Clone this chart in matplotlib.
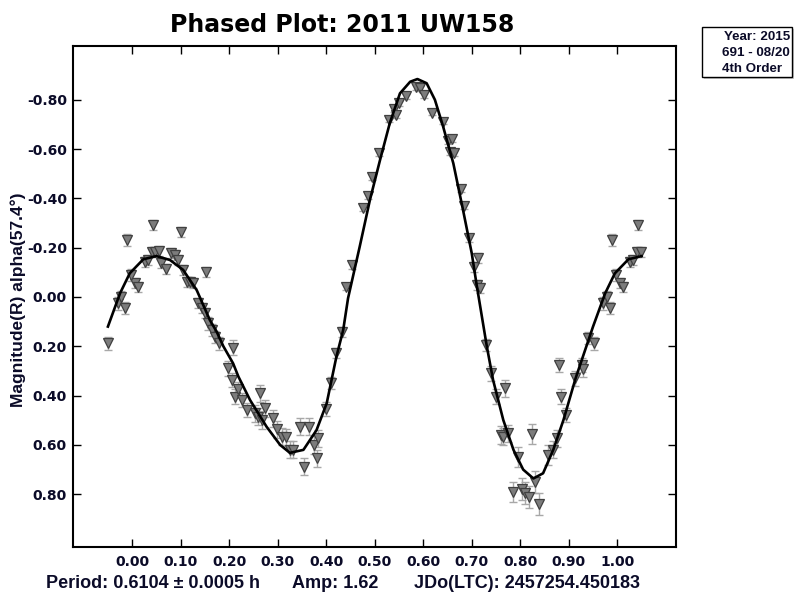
import numpy as np
import matplotlib.pyplot as plt
from matplotlib.patches import Rectangle
from matplotlib.lines import Line2D

# 위상 (0~1), 등급, 오차
phase = [0.006, 0.012, 0.026, 0.033, 0.040, 0.043, 0.048, 0.055, 0.059, 0.069,
         0.081, 0.088, 0.095, 0.100, 0.105, 0.112, 0.119, 0.126, 0.136, 0.143,
         0.150, 0.153, 0.157, 0.164, 0.170, 0.179, 0.198, 0.205, 0.208, 0.212,
         0.219, 0.226, 0.236, 0.253, 0.260, 0.263, 0.267, 0.274, 0.291, 0.299,
         0.308, 0.318, 0.325, 0.332, 0.345, 0.355, 0.365, 0.375, 0.380, 0.384,
         0.400, 0.409, 0.420, 0.432, 0.441, 0.454, 0.475, 0.487, 0.494, 0.509,
         0.529, 0.540, 0.544, 0.550, 0.564, 0.585, 0.593, 0.602, 0.619, 0.641,
         0.652, 0.655, 0.659, 0.664, 0.677, 0.685, 0.695, 0.705, 0.713, 0.710,
         0.718, 0.729, 0.739, 0.750, 0.760, 0.765, 0.769, 0.775, 0.784, 0.795,
         0.803, 0.810, 0.817, 0.824, 0.831, 0.839, 0.858, 0.868, 0.875, 0.880,
         0.884, 0.894, 0.913, 0.927, 0.930, 0.940, 0.951, 0.971, 0.978, 0.985,
         0.990, 0.997]
mag = [-0.056, -0.042, -0.143, -0.150, -0.184, -0.292, -0.184, -0.187, -0.137, -0.112,
       -0.180, -0.170, -0.150, -0.265, -0.110, -0.062, -0.060, -0.058, 0.026, 0.046,
       0.066, -0.103, 0.107, 0.134, 0.161, 0.188, 0.289, 0.337, 0.205, 0.404,
       0.374, 0.418, 0.458, 0.472, 0.486, 0.391, 0.499, 0.452, 0.492, 0.537,
       0.567, 0.569, 0.620, 0.620, 0.526, 0.688, 0.526, 0.600, 0.654, 0.573,
       0.454, 0.350, 0.226, 0.141, -0.042, -0.130, -0.360, -0.410, -0.488, -0.583,
       -0.718, -0.761, -0.738, -0.786, -0.815, -0.851, -0.847, -0.819, -0.748, -0.711,
       -0.633, -0.589, -0.641, -0.585, -0.437, -0.371, -0.238, -0.123, -0.157, -0.049,
       -0.035, 0.195, 0.310, 0.404, 0.560, 0.567, 0.370, 0.553, 0.790, 0.648,
       0.780, 0.796, 0.810, 0.556, 0.749, 0.840, 0.641, 0.620, 0.573, 0.276,
       0.404, 0.479, 0.330, 0.276, 0.293, 0.166, 0.188, 0.026, 0.000, 0.044,
       -0.231, -0.089]
mag_err = [0.02, 0.02, 0.02, 0.02, 0.02, 0.02, 0.02, 0.02, 0.02, 0.02,
           0.02, 0.02, 0.02, 0.02, 0.02, 0.02, 0.02, 0.02, 0.02, 0.02,
           0.02, 0.02, 0.025, 0.025, 0.025, 0.025, 0.03, 0.03, 0.03, 0.03,
           0.03, 0.03, 0.03, 0.035, 0.035, 0.035, 0.035, 0.035, 0.035, 0.035,
           0.035, 0.035, 0.035, 0.035, 0.035, 0.035, 0.035, 0.035, 0.035, 0.035,
           0.03, 0.025, 0.02, 0.02, 0.015, 0.015, 0.012, 0.012, 0.012, 0.012,
           0.01, 0.01, 0.01, 0.01, 0.01, 0.01, 0.01, 0.01, 0.01, 0.01,
           0.012, 0.012, 0.012, 0.012, 0.012, 0.015, 0.015, 0.02, 0.02, 0.02,
           0.02, 0.025, 0.03, 0.03, 0.035, 0.035, 0.035, 0.035, 0.04, 0.04,
           0.045, 0.045, 0.045, 0.04, 0.045, 0.045, 0.04, 0.035, 0.035, 0.03,
           0.03, 0.03, 0.03, 0.03, 0.03, 0.025, 0.025, 0.025, 0.025, 0.025,
           0.025, 0.025]

# 4차 푸리에 곡선
fit_x = [-0.050, -0.025, -0.005, 0.023, 0.050, 0.078, 0.105, 0.133, 0.160, 0.174,
         0.188, 0.208, 0.219, 0.243, 0.277, 0.305, 0.325, 0.353, 0.380, 0.401,
         0.421, 0.435, 0.445, 0.469, 0.490, 0.511, 0.531, 0.552, 0.573, 0.588,
         0.607, 0.624, 0.641, 0.662, 0.682, 0.700, 0.710, 0.731, 0.744, 0.765,
         0.786, 0.806, 0.827, 0.847, 0.868, 0.889, 0.914, 0.950, 0.975, 0.995,
         1.023, 1.050]
fit_y = [0.120, -0.015, -0.096, -0.153, -0.166, -0.150, -0.110, -0.028, 0.093, 0.140,
         0.200, 0.269, 0.323, 0.418, 0.526, 0.600, 0.632, 0.620, 0.540, 0.431,
         0.242, 0.134, 0.005, -0.204, -0.393, -0.556, -0.705, -0.826, -0.873, -0.884,
         -0.867, -0.800, -0.691, -0.542, -0.353, -0.177, -0.050, 0.200, 0.337, 0.499,
         0.620, 0.700, 0.736, 0.715, 0.620, 0.499, 0.330, 0.120, -0.015, -0.096,
         -0.153, -0.166]

x_ticks = [0.0, 0.1, 0.2, 0.3, 0.4, 0.5, 0.6, 0.7, 0.8, 0.9, 1.0]
y_ticks = [-0.8, -0.6, -0.4, -0.2, 0.0, 0.2, 0.4, 0.6, 0.8]

# 위상 -0.05 ~ 1.05 로 반복 표시
p = np.array(phase)
m = np.array(mag)
e = np.array(mag_err)
lo = p > 0.95
hi = p < 0.05
px = np.concatenate([p, p[lo] - 1, p[hi] + 1])
py = np.concatenate([m, m[lo], m[hi]])
pe = np.concatenate([e, e[lo], e[hi]])

W, H = 802, 602
txt_color = '#0b0b28'
fig = plt.figure(figsize=(W / 100, H / 100), dpi=100)
ax = fig.add_axes([72.5 / W, 1 - 547 / H, (676 - 72.5) / W, (547 - 46) / H])

ax.errorbar(px, py, yerr=pe, fmt='none', ecolor='#a8a8a8', elinewidth=1,
            capsize=3, capthick=1, zorder=2)
ax.plot(px, py, 'v', ms=7.8, mfc='#7c7c7c', mec='#404040', mew=0.9, zorder=3)
ax.plot(fit_x, fit_y, color='black', lw=1.9, zorder=4)

ax.set_xlim(-0.123, 1.121)
ax.set_ylim(1.014, -1.018)
ax.set_xticks(x_ticks)
ax.set_yticks(y_ticks)
ax.set_xticklabels([f"{v:.2f}" for v in x_ticks])
ax.set_yticklabels([f"{v:.2f}" for v in y_ticks])
ax.tick_params(direction='in', length=6, width=1, top=True, right=True,
               labelsize=10, labelcolor=txt_color)
ax.tick_params(axis='x', pad=6)
ax.tick_params(axis='y', pad=4)
for lab in ax.get_xticklabels() + ax.get_yticklabels():
    lab.set_fontweight('bold')
    lab.set_family('DejaVu Sans')
for s in ax.spines.values():
    s.set_linewidth(1.5)

fig.text(18 / W, 1 - 300 / H, "Magnitude(R) alpha(57.4°)", rotation=90,
         ha='center', va='center', fontsize=12.5, fontweight='bold',
         family='Liberation Sans', color=txt_color)

fig.text(342.5 / W, 1 - 25 / H, "Phased Plot: 2011 UW158", ha='center',
         va='center', fontsize=17, fontweight='bold', family='DejaVu Sans')

bottom_y = 1 - 583 / H
kw = dict(va='center', ha='left', fontsize=13, fontweight='bold',
          family='Liberation Sans', color=txt_color)
fig.text(46 / W, bottom_y, "Period: 0.6104 ± 0.0005 h", **kw)
fig.text(292 / W, bottom_y, "Amp: 1.62", **kw)
fig.text(640 / W, bottom_y, "JDo(LTC): 2457254.450183", **dict(kw, ha='right'))

# 범례 상자
fig.patches.append(Rectangle((704 / W, 1 - 79 / H), 90 / W, 50 / H,
                             transform=fig.transFigure, facecolor='#c8c8c8',
                             edgecolor='none', zorder=1))
fig.patches.append(Rectangle((702 / W, 1 - 77 / H), 90 / W, 50 / H,
                             transform=fig.transFigure, facecolor='white',
                             edgecolor='black', lw=1, zorder=2))
lkw = dict(ha='right', va='center', fontsize=9.6, fontweight='bold',
           family='Liberation Sans', color=txt_color)
fig.text(790 / W, 1 - 37 / H, "Year: 2015", **lkw)
fig.text(790 / W, 1 - 53 / H, "691 - 08/20", **lkw)
fig.text(722 / W, 1 - 68.5 / H, "4th Order", **dict(lkw, ha='left'))
fig.lines.append(Line2D([711 / W], [1 - 53 / H], marker='v', ms=6,
                        mfc='#7c7c7c', mec='#404040', mew=0.8,
                        transform=fig.transFigure))
fig.lines.append(Line2D([705 / W, 721 / W], [1 - 68 / H, 1 - 68 / H],
                        color='black', lw=2, transform=fig.transFigure))

fig.savefig("out.png", dpi=100)
